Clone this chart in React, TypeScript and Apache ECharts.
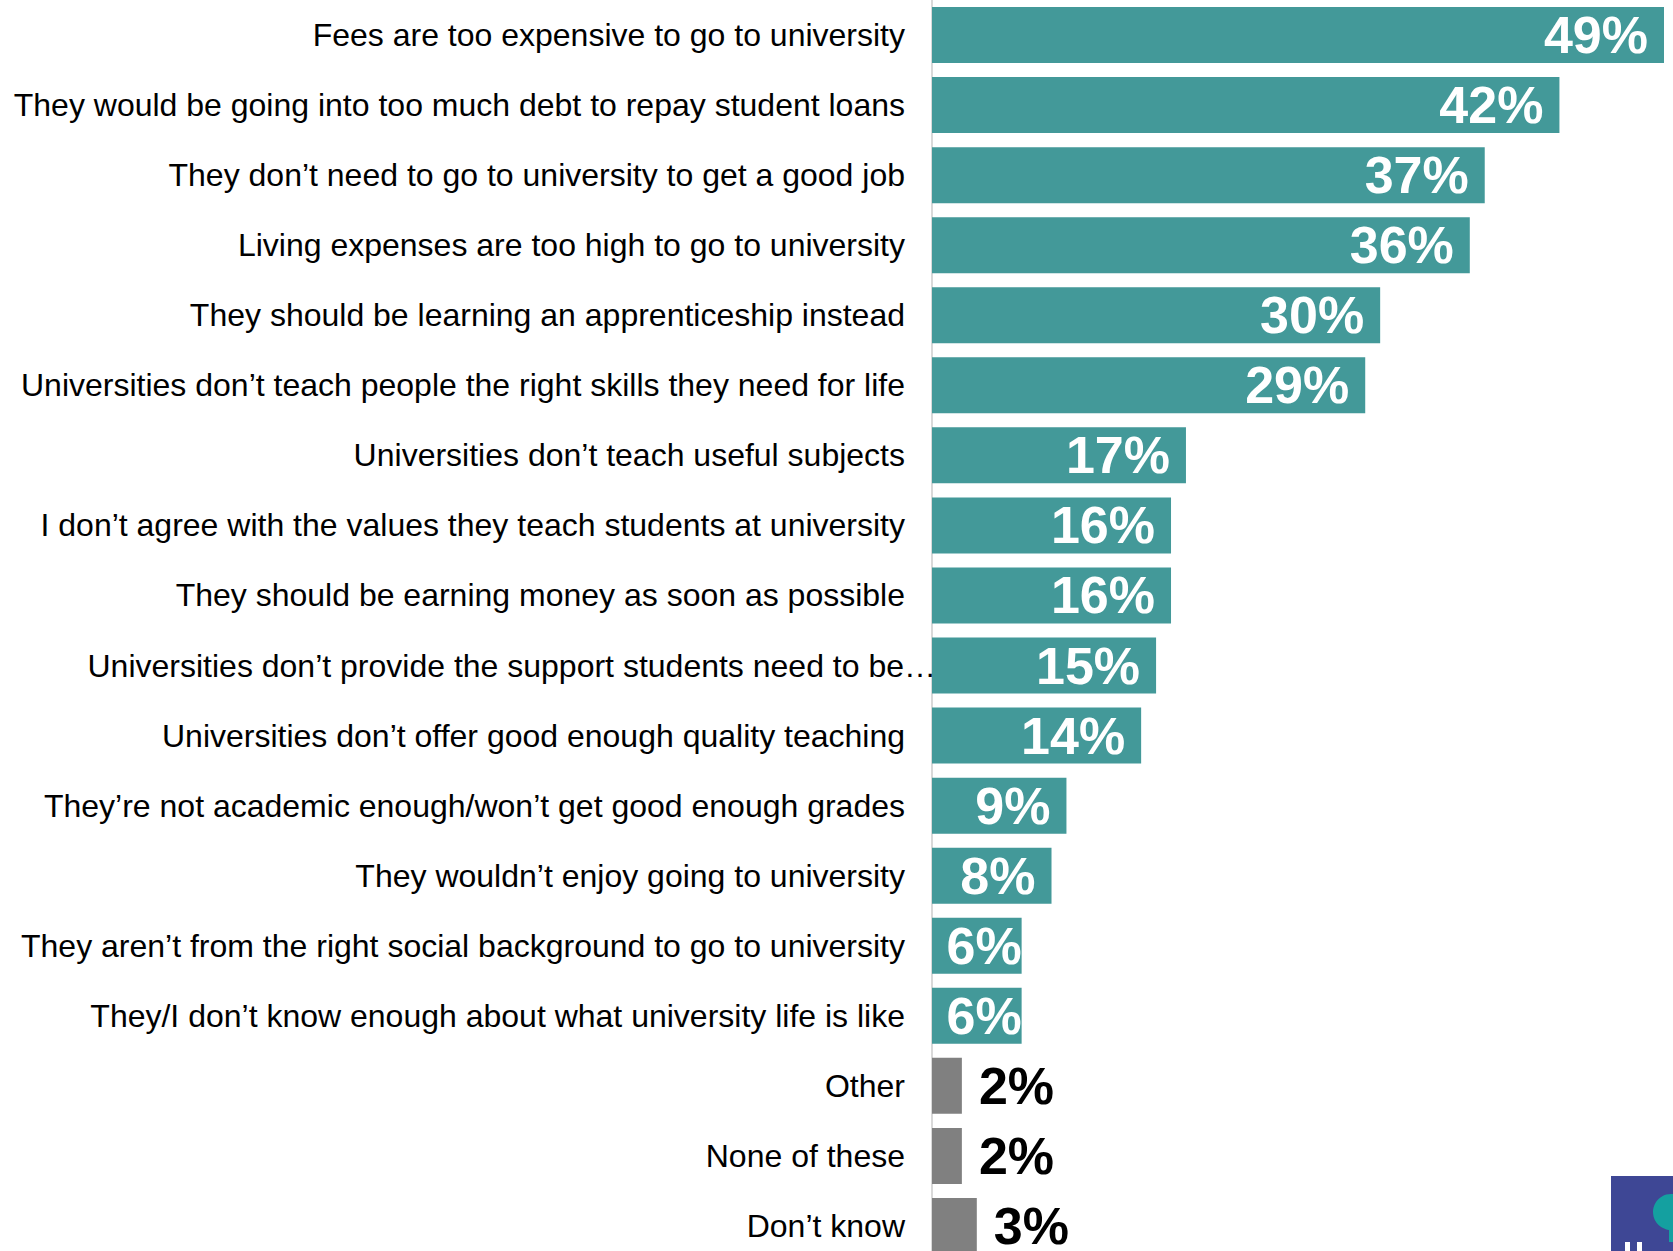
import React, { useEffect, useRef } from "react";
import * as echarts from "echarts";

const categories = [
  "Fees are too expensive to go to university",
  "They would be going into too much debt to repay student loans",
  "They don’t need to go to university to get a good job",
  "Living expenses are too high to go to university",
  "They should be learning an apprenticeship instead",
  "Universities don’t teach people the right skills they need for life",
  "Universities don’t teach useful subjects",
  "I don’t agree with the values they teach students at university",
  "They should be earning money as soon as possible",
  "Universities don’t provide the support students need to be…",
  "Universities don’t offer good enough quality teaching",
  "They’re not academic enough/won’t get good enough grades",
  "They wouldn’t enjoy going to university",
  "They aren’t from the right social background to go to university",
  "They/I don’t know enough about what university life is like",
  "Other",
  "None of these",
  "Don’t know",
];

const values = [49, 42, 37, 36, 30, 29, 17, 16, 16, 15, 14, 9, 8, 6, 6, 2, 2, 3];

const otherCategories = ["Other", "None of these", "Don’t know"];
const truncatedLabel = "Universities don’t provide the support students need to be…";

const TEAL = "#439999";
const GREY = "#808080";
const FONT = "'Liberation Sans', Arial, sans-serif";

export default function App() {
  const ref = useRef<HTMLDivElement>(null);

  useEffect(() => {
    if (!ref.current) return;
    const chart = echarts.init(ref.current, undefined, { renderer: "svg" });

    const data = values.map((v, i) => {
      const isOther = otherCategories.includes(categories[i]);
      return {
        value: v,
        itemStyle: { color: isOther ? GREY : TEAL },
        label: isOther
          ? { position: "right", distance: 17, color: "#000" }
          : { position: "insideRight", distance: v < 8 ? 0 : 16, color: "#fff" },
      };
    });

    chart.setOption({
      animation: false,
      backgroundColor: "#ffffff",
      grid: { left: 932, right: 9, top: 0, bottom: 0, containLabel: false },
      xAxis: {
        type: "value",
        min: 0,
        max: 49,
        show: false,
        splitLine: { show: false },
      },
      yAxis: [
        {
          type: "category",
          data: categories,
          inverse: true,
          position: "left",
          axisLine: { show: true, lineStyle: { color: "#d9d9d9", width: 2 } },
          axisTick: { show: false },
          axisLabel: {
            margin: 27,
            fontFamily: FONT,
            fontSize: 32,
            color: "#000",
            formatter: (v: string) => (v === truncatedLabel ? "" : v),
          },
        },
        {
          type: "category",
          data: categories,
          inverse: true,
          position: "left",
          axisLine: { show: false },
          axisTick: { show: false },
          axisLabel: {
            margin: -4,
            fontFamily: FONT,
            fontSize: 32,
            color: "#000",
            formatter: (v: string) => (v === truncatedLabel ? v : ""),
          },
        },
      ],
      series: [
        {
          type: "bar",
          yAxisIndex: 0,
          data,
          barWidth: 56,
          label: {
            show: true,
            formatter: "{c}%",
            fontFamily: FONT,
            fontWeight: "bold",
            fontSize: 52,
          },
        },
      ],
      graphic: [
        {
          type: "group",
          left: 1611,
          top: 1176,
          children: [
            { type: "rect", shape: { x: 0, y: 0, width: 70, height: 80 }, style: { fill: "#3e4795" } },
            { type: "circle", shape: { cx: 60, cy: 36, r: 18 }, style: { fill: "#14a0a0" } },
            { type: "rect", shape: { x: 58, y: 50, width: 5, height: 16 }, style: { fill: "#14a0a0" } },
            { type: "rect", shape: { x: 14, y: 66, width: 5, height: 14 }, style: { fill: "#ffffff" } },
            { type: "rect", shape: { x: 26, y: 66, width: 5, height: 14 }, style: { fill: "#ffffff" } },
          ],
        },
      ],
    });

    return () => chart.dispose();
  }, []);

  return (
    <div
      style={{
        position: "fixed",
        left: 0,
        top: 0,
        width: 1673,
        height: 1251,
        overflow: "hidden",
        background: "#fff",
      }}
    >
      <div ref={ref} style={{ width: 1673, height: 1261 }} />
    </div>
  );
}
